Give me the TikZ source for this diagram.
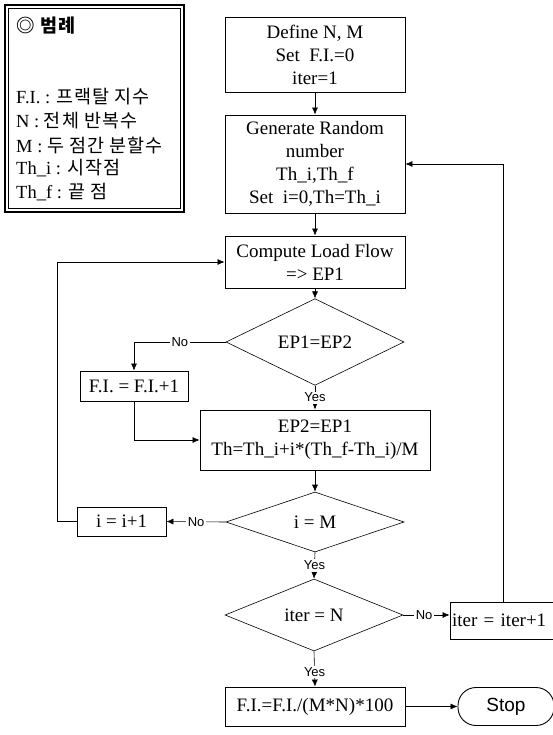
\documentclass[tikz,border=0pt]{standalone}
\usepackage{fontspec}
\setmainfont{Liberation Serif}
\setsansfont{Liberation Sans}
\newfontfamily\kr{Noto Sans CJK KR}[LetterSpace=6]
\usetikzlibrary{shapes.geometric,arrows.meta}
\tikzset{
  box/.style={draw,line width=0.9pt,minimum width=180pt,align=center,inner sep=2pt,font=\fontsize{19}{23}\selectfont},
  cond/.style={draw,diamond,line width=0.6pt,inner sep=0pt,minimum width=178pt,minimum height=58pt,font=\fontsize{19}{23}\selectfont},
  lbl/.style={fill=white,inner sep=1.5pt,font=\sffamily\fontsize{13}{15}\selectfont},
  arr/.style={line width=0.6pt,-{Latex[length=7pt,width=6pt]}},
  keytext/.style={anchor=west,inner sep=0pt,font=\fontsize{18.5}{21}\selectfont}
}
\newcommand{\hangul}[1]{{\kr #1}}

\begin{document}
\begin{tikzpicture}[x=1pt,y=-1pt]
\useasboundingbox (0,0) rectangle (552,735);
\fill[white] (0,0) rectangle (552,735);

\node[draw,line width=1.6pt,minimum width=179pt,minimum height=207pt,inner sep=0pt] (legend) at (94.5,108.5) {};
\node[draw,line width=0.5pt,minimum width=172pt,minimum height=200pt,inner sep=0pt] (legendin) at (legend.center) {};
\node[keytext] (k0) at (16,26) {{\kr\bfseries ◎ 범례}};
\node[keytext] (k1) at (16,97) {F.I. : \hangul{프랙탈 지수}};
\node[keytext] (k2) at (16,121) {N : \hangul{전체 반복수}};
\node[keytext] (k3) at (16,145) {M : \hangul{두 점간 분할수}};
\node[keytext] (k4) at (16,168) {Th\_i : \hangul{시작점}};
\node[keytext] (k5) at (16,192) {Th\_f : \hangul{끝 점}};

\node[box,minimum height=75pt] (define) at (315,54.5) {Define N, M\\Set~ F.I.=0\\iter=1};
\node[box,minimum height=98pt] (gen) at (315,164) {Generate Random\\number\\Th\_i,Th\_f\\Set~ i=0,Th=Th\_i};
\node[box,minimum height=52pt] (comp) at (315,262) {Compute Load Flow\\=> EP1};
\node[cond] (ep) at (315,342) {EP1=EP2};
\node[box,minimum width=108pt,minimum height=30pt] (fi) at (134,386) {F.I. = F.I.+1};
\node[box,minimum width=230pt,minimum height=60pt] (upd) at (315,440) {EP2=EP1\\Th=Th\_i+i*(Th\_f-Th\_i)/M};
\node[cond,minimum height=60pt] (im) at (315,522) {i = M};
\node[box,minimum width=89pt,minimum height=29pt] (inc) at (121.5,521.5) {i = i+1};
\node[cond,minimum height=54pt] (itn) at (314,615) {iter = N};
\node[box,minimum width=110pt,minimum height=37pt,text width=106pt,align=left] (iterinc) at (505,620.5) {iter = iter+1};
\node[box,minimum height=39pt] (final) at (315,706.5) {F.I.=F.I./(M*N)*100};
\node[box,minimum width=96pt,minimum height=38pt,rounded corners=18pt,font=\sffamily\fontsize{19}{23}\selectfont] (stop) at (506,706.5) {Stop};

\coordinate (lx) at (57,0);
\coordinate (rx) at (503,0);

\draw[arr] (define) -- (gen);
\draw[arr] (gen) -- (comp);
\draw[arr] (comp) -- (ep);
\draw[arr] (ep.west) -| node[lbl,pos=0.25] {No} (fi.north);
\draw[arr] (ep.south) -- node[lbl] {Yes} (upd.north);
\draw[arr] (fi.south) |- (upd.west);
\draw[arr] (upd) -- (im);
\draw[arr] (im.west) -- node[lbl] {No} (inc.east);
\draw[arr] (inc.west) -- (inc.west -| lx) |- (comp.west);
\draw[arr] (im.south) -- node[lbl] {Yes} (itn.north);
\draw[arr] (itn.east) -- node[lbl,pos=0.45] {No} (itn.east -| iterinc.west);
\draw[arr] (iterinc.north -| rx) |- (gen.east);
\draw[arr] (itn.south) -- node[lbl,pos=0.6] {Yes} (final.north);
\draw[arr] (final) -- (stop);
\end{tikzpicture}
\end{document}
